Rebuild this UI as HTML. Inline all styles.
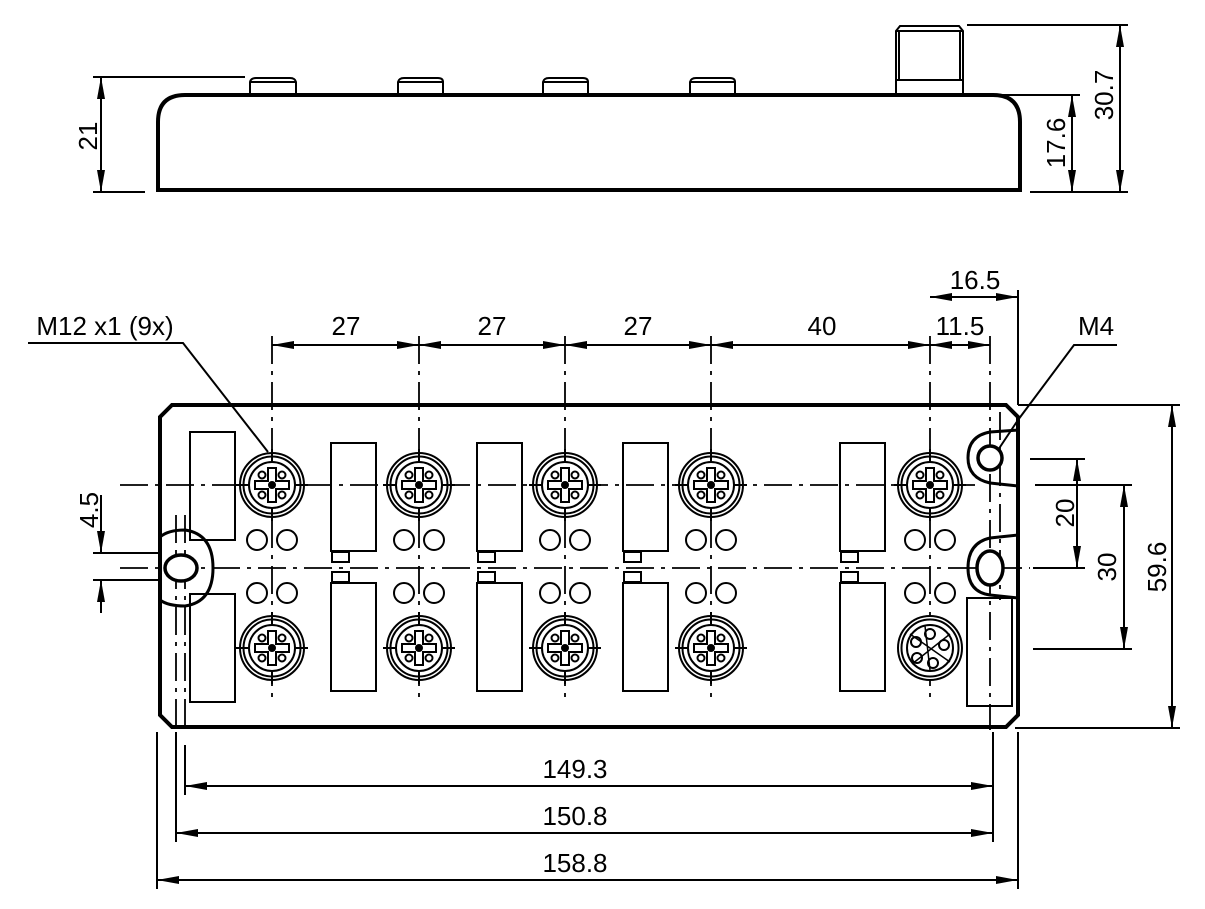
<!DOCTYPE html>
<html><head><meta charset="utf-8"><style>
html,body{margin:0;padding:0;background:#fff;}
svg{display:block;}
text{font-family:"Liberation Sans",sans-serif;font-size:26px;fill:#000;}
</style></head><body>
<svg width="1205" height="909" viewBox="0 0 1205 909" xmlns="http://www.w3.org/2000/svg">
<defs>
<marker id="a" markerWidth="22" markerHeight="8" refX="22" refY="4" orient="auto-start-reverse" markerUnits="userSpaceOnUse"><path d="M0,0 L22,4 L0,8 Z" fill="#000"/></marker>
<g id="con">
<circle r="32" fill="#fff" stroke="#000" stroke-width="2"/>
<circle r="28.5" fill="none" stroke="#000" stroke-width="2"/>
<circle r="23" fill="none" stroke="#000" stroke-width="2"/>
<path d="M-4,-17 H4 V-4 H17 V4 H4 V17 H-4 V4 H-17 V-4 H-4 Z" fill="none" stroke="#000" stroke-width="2"/>
<circle cx="-10" cy="-10" r="3.5" fill="none" stroke="#000" stroke-width="2"/>
<circle cx="10" cy="-10" r="3.5" fill="none" stroke="#000" stroke-width="2"/>
<circle cx="-10" cy="10" r="3.5" fill="none" stroke="#000" stroke-width="2"/>
<circle cx="10" cy="10" r="3.5" fill="none" stroke="#000" stroke-width="2"/>
<circle r="4" fill="#000"/>
<path d="M-36,0 H-23 M23,0 H36 M0,-36 V-23 M0,23 V36" stroke="#000" stroke-width="2"/>
</g>
<g id="con5">
<circle r="32" fill="#fff" stroke="#000" stroke-width="2"/>
<circle r="28.5" fill="none" stroke="#000" stroke-width="2"/>
<circle r="23" fill="none" stroke="#000" stroke-width="2"/>
<circle cx="0" cy="-14" r="5" fill="none" stroke="#000" stroke-width="2"/>
<circle cx="-14" cy="-6" r="5" fill="none" stroke="#000" stroke-width="2"/>
<circle cx="14" cy="-3" r="5" fill="none" stroke="#000" stroke-width="2"/>
<circle cx="-13" cy="10" r="5" fill="none" stroke="#000" stroke-width="2"/>
<circle cx="3" cy="15" r="5" fill="none" stroke="#000" stroke-width="2"/>
<path d="M-20,-14 L20,14 M-5,-22 L0,22 M20,-14 L-18,16" stroke="#000" stroke-width="1.5"/>
</g>
<g id="leds"><circle cx="-15" r="10" fill="#fff" stroke="#000" stroke-width="2"/><circle cx="15" r="10" fill="#fff" stroke="#000" stroke-width="2"/></g>
</defs>

<!-- TOP (side) VIEW -->
<g stroke="#000" fill="none">
<path d="M158,190 V122 Q158,95 185,95 H993 Q1020,95 1020,122 V190 Z" stroke-width="4"/>
<g stroke-width="2">
<path d="M250,95 V82 Q251,78 256,78 H290 Q295,78 296,82 V95 M250,82 H296"/>
<path d="M398,95 V82 Q399,78 404,78 H438 Q443,78 443,82 V95 M398,82 H443"/>
<path d="M543,95 V82 Q544,78 549,78 H583 Q588,78 588,82 V95 M543,82 H588"/>
<path d="M690,95 V82 Q691,78 696,78 H730 Q735,78 735,82 V95 M690,82 H735"/>
<path d="M896,95 V31 L900,26 H959 L963,31 V95 M896,31 H963 M897,80 H962 M899,31 V80 M960,31 V80"/>
<line x1="93" y1="77" x2="245" y2="77"/><line x1="93" y1="192" x2="145" y2="192"/>
<line x1="101" y1="77" x2="101" y2="192" marker-start="url(#a)" marker-end="url(#a)"/>
<line x1="1000" y1="95" x2="1080" y2="95"/><line x1="1030" y1="192" x2="1128" y2="192"/>
<line x1="1072" y1="95" x2="1072" y2="192" marker-start="url(#a)" marker-end="url(#a)"/>
<line x1="967" y1="25" x2="1128" y2="25"/>
<line x1="1120" y1="25" x2="1120" y2="192" marker-start="url(#a)" marker-end="url(#a)"/>
</g>
</g>
<text transform="translate(97,136) rotate(-90)" text-anchor="middle">21</text>
<text transform="translate(1065,143) rotate(-90)" text-anchor="middle">17.6</text>
<text transform="translate(1113,95) rotate(-90)" text-anchor="middle">30.7</text>

<!-- BOTTOM (plan) VIEW -->
<g stroke="#000" fill="none">
<path d="M172,405 H1006 L1018,417 V715 L1006,727 H172 L160,715 V417 Z" fill="#fff" stroke-width="4"/>
<!-- centre lines -->
<g stroke-width="1.8" stroke-dasharray="28,7,4,7">
<line x1="120" y1="485" x2="975" y2="485"/>
<line x1="120" y1="568" x2="1030" y2="568"/>
<line x1="272" y1="336" x2="272" y2="700"/>
<line x1="419" y1="336" x2="419" y2="700"/>
<line x1="565" y1="336" x2="565" y2="700"/>
<line x1="711" y1="336" x2="711" y2="700"/>
<line x1="930" y1="336" x2="930" y2="700"/>
<line x1="990" y1="336" x2="990" y2="730"/>
<line x1="176" y1="515" x2="176" y2="730"/>
<line x1="185" y1="515" x2="185" y2="730"/>
<line x1="1000" y1="412" x2="1000" y2="600"/>
</g>
<!-- left lug -->
<path d="M160,537 Q168,530 185,530 Q213,534 213,568 Q213,602 185,606 Q168,606 160,600" stroke-width="3"/>
<ellipse cx="181" cy="568" rx="16" ry="13" fill="#fff" stroke-width="3.5"/>
<!-- right lugs -->
<path d="M1018,430 L990,432 Q968,436 968,458 Q968,478 990,483 L1018,486" stroke-width="3"/>
<circle cx="990" cy="458" r="12" fill="#fff" stroke-width="3.5"/>
<path d="M1018,535 L990,538 Q968,543 968,568 Q968,592 990,595 L1018,598" stroke-width="3"/>
<ellipse cx="990" cy="568" rx="13" ry="17" fill="#fff" stroke-width="3.5"/>
<g stroke-width="2">
<rect x="190" y="432" width="45" height="108"/><rect x="190" y="594" width="45" height="108"/>
<rect x="331" y="443" width="45" height="108"/><rect x="331" y="583" width="45" height="108"/>
<rect x="332" y="552" width="17" height="10"/><rect x="332" y="572" width="17" height="10"/>
<rect x="477" y="443" width="45" height="108"/><rect x="477" y="583" width="45" height="108"/>
<rect x="478" y="552" width="17" height="10"/><rect x="478" y="572" width="17" height="10"/>
<rect x="623" y="443" width="45" height="108"/><rect x="623" y="583" width="45" height="108"/>
<rect x="624" y="552" width="17" height="10"/><rect x="624" y="572" width="17" height="10"/>
<rect x="840" y="443" width="45" height="108"/><rect x="840" y="583" width="45" height="108"/>
<rect x="841" y="552" width="17" height="10"/><rect x="841" y="572" width="17" height="10"/>
<path d="M967,598 H1012 V706 H967 Z"/>
</g>
</g>
<use href="#con" x="272" y="485"/><use href="#con" x="419" y="485"/><use href="#con" x="565" y="485"/><use href="#con" x="711" y="485"/><use href="#con" x="930" y="485"/>
<use href="#con" x="272" y="648"/><use href="#con" x="419" y="648"/><use href="#con" x="565" y="648"/><use href="#con" x="711" y="648"/><use href="#con5" x="930" y="648"/>
<use href="#leds" x="272" y="540"/><use href="#leds" x="419" y="540"/><use href="#leds" x="565" y="540"/><use href="#leds" x="711" y="540"/><use href="#leds" x="930" y="540"/>
<use href="#leds" x="272" y="593"/><use href="#leds" x="419" y="593"/><use href="#leds" x="565" y="593"/><use href="#leds" x="711" y="593"/><use href="#leds" x="930" y="593"/>

<!-- dimensions -->
<g stroke="#000" fill="none" stroke-width="2">
<line x1="272" y1="345" x2="419" y2="345" marker-start="url(#a)" marker-end="url(#a)"/>
<line x1="419" y1="345" x2="565" y2="345" marker-start="url(#a)" marker-end="url(#a)"/>
<line x1="565" y1="345" x2="711" y2="345" marker-start="url(#a)" marker-end="url(#a)"/>
<line x1="711" y1="345" x2="930" y2="345" marker-start="url(#a)" marker-end="url(#a)"/>
<line x1="930" y1="345" x2="990" y2="345" marker-start="url(#a)" marker-end="url(#a)"/>
<line x1="1018" y1="290" x2="1018" y2="405"/>
<line x1="930" y1="297" x2="1018" y2="297" marker-start="url(#a)" marker-end="url(#a)"/>
<path d="M28,343 H183 L268,452"/>
<path d="M1117,345 H1074 L1018,420"/>
<path d="M1018,420 L998,450"/>
<line x1="1030" y1="459" x2="1085" y2="459"/><line x1="1033" y1="568" x2="1085" y2="568"/>
<line x1="1077" y1="459" x2="1077" y2="568" marker-start="url(#a)" marker-end="url(#a)"/>
<line x1="1035" y1="485" x2="1132" y2="485"/><line x1="1033" y1="649" x2="1132" y2="649"/>
<line x1="1124" y1="485" x2="1124" y2="649" marker-start="url(#a)" marker-end="url(#a)"/>
<line x1="1018" y1="405" x2="1180" y2="405"/><line x1="1015" y1="728" x2="1180" y2="728"/>
<line x1="1172" y1="405" x2="1172" y2="728" marker-start="url(#a)" marker-end="url(#a)"/>
<line x1="93" y1="553" x2="160" y2="553"/><line x1="93" y1="580" x2="160" y2="580"/>
<line x1="101" y1="495" x2="101" y2="553" marker-end="url(#a)"/>
<line x1="101" y1="613" x2="101" y2="580" marker-end="url(#a)"/>
<line x1="157" y1="732" x2="157" y2="889"/>
<line x1="176" y1="732" x2="176" y2="842"/>
<line x1="185" y1="745" x2="185" y2="795"/>
<line x1="993" y1="732" x2="993" y2="842"/>
<line x1="1018" y1="732" x2="1018" y2="889"/>
<line x1="185" y1="786" x2="993" y2="786" marker-start="url(#a)" marker-end="url(#a)"/>
<line x1="176" y1="833" x2="993" y2="833" marker-start="url(#a)" marker-end="url(#a)"/>
<line x1="157" y1="880" x2="1018" y2="880" marker-start="url(#a)" marker-end="url(#a)"/>
</g>
<text x="346" y="335" text-anchor="middle">27</text>
<text x="492" y="335" text-anchor="middle">27</text>
<text x="638" y="335" text-anchor="middle">27</text>
<text x="822" y="335" text-anchor="middle">40</text>
<text x="960" y="335" text-anchor="middle">11.5</text>
<text x="975" y="289" text-anchor="middle">16.5</text>
<text x="105" y="335" text-anchor="middle">M12 x1 (9x)</text>
<text x="1096" y="335" text-anchor="middle">M4</text>
<text transform="translate(1074,513) rotate(-90)" text-anchor="middle">20</text>
<text transform="translate(1116,567) rotate(-90)" text-anchor="middle">30</text>
<text transform="translate(1166,567) rotate(-90)" text-anchor="middle">59.6</text>
<text transform="translate(98,510) rotate(-90)" text-anchor="middle">4.5</text>
<text x="575" y="778" text-anchor="middle">149.3</text>
<text x="575" y="825" text-anchor="middle">150.8</text>
<text x="575" y="872" text-anchor="middle">158.8</text>
</svg>
</body></html>
